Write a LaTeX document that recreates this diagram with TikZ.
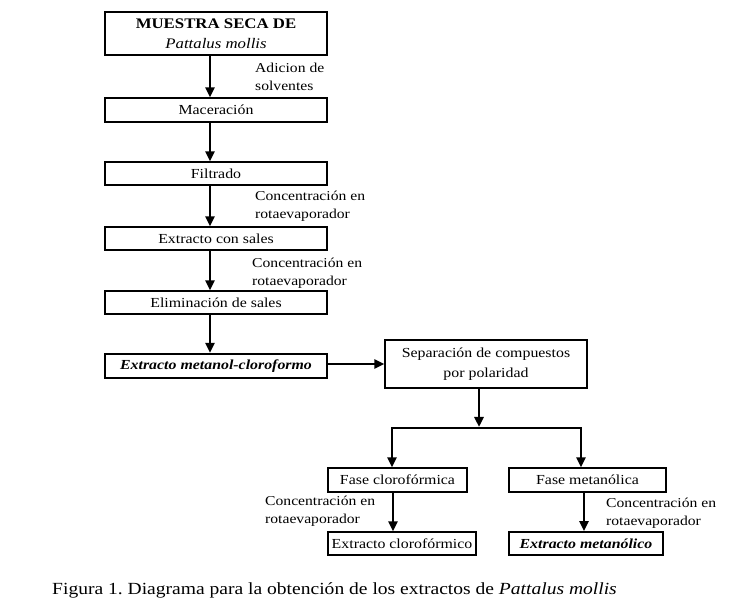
\documentclass[tikz,border=0pt]{standalone}
\usepackage{fontspec}
\setmainfont[FakeStretch=1.15]{Liberation Serif}
\usetikzlibrary{arrows.meta}
\frenchspacing
\begin{document}
\begin{tikzpicture}[x=1pt,y=-1pt,
  box/.style={draw, line width=1.4pt, inner sep=0pt, minimum height=24pt, font=\fontsize{13.8}{15}\selectfont, align=center},
  lbl/.style={anchor=north west, inner sep=0pt, font=\fontsize{13.6}{17.5}\selectfont, align=left},
  arr/.style={line width=2.6pt, -{Triangle[length=10pt,width=9pt]}},
  ln/.style={line width=2.6pt}]
\useasboundingbox (0,0) rectangle (742,609);
\node[box, minimum width=222pt, minimum height=43pt, font=\fontsize{14.6}{20}\selectfont] (muestra) at (216,33.5) {\textbf{MUESTRA SECA DE}\\\textit{Pattalus mollis}};
\node[box, minimum width=222pt] (mac) at (216,110) {Maceración};
\node[box, minimum width=222pt, minimum height=23pt] (filt) at (216,173.5) {Filtrado};
\node[box, minimum width=222pt, minimum height=23pt] (sales) at (216,238.5) {Extracto con sales};
\node[box, minimum width=222pt, minimum height=23pt] (elim) at (216,302.5) {Eliminación de sales};
\node[box, line width=2.2pt, minimum width=222pt] (emc) at (216,366) {\textbf{\textit{Extracto metanol-cloroformo}}};
\node[box, minimum width=202pt, minimum height=48pt, font=\fontsize{13.8}{20}\selectfont] (sep) at (486,364) {Separación de compuestos\\por polaridad};
\node[box, minimum width=139pt] (fcl) at (397.5,480) {Fase clorofórmica};
\node[box, minimum width=157pt] (fme) at (587.5,480) {Fase metanólica};
\node[box, minimum width=148pt, minimum height=23pt] (ecl) at (402,543.5) {Extracto clorofórmico};
\node[box, line width=1.8pt, minimum width=154pt, minimum height=23pt] (eme) at (586,543.5) {\textbf{\textit{Extracto metanólico}}};

\coordinate (ax) at (210,0);
\draw[arr] (muestra.south -| ax) -- (mac.north -| ax);
\draw[arr] (mac.south -| ax) -- (filt.north -| ax);
\draw[arr] (filt.south -| ax) -- (sales.north -| ax);
\draw[arr] (sales.south -| ax) -- (elim.north -| ax);
\draw[arr] (elim.south -| ax) -- (emc.north -| ax);
\draw[arr] (emc.east |- 0,364) -- (sep.west |- 0,364);

\coordinate (bm) at (479,427);
\coordinate (bl) at (392,428);
\coordinate (br) at (581,428);
\draw[arr] (sep.south -| bm) -- (bm);
\draw[ln, line cap=rect] (bl) -- (br);
\draw[arr] (bl) -- (fcl.north -| bl);
\draw[arr] (br) -- (fme.north -| br);
\coordinate (cl) at (393,0);
\coordinate (cr) at (584,0);
\draw[arr] (fcl.south -| cl) -- (ecl.north -| cl);
\draw[arr] (fme.south -| cr) -- (eme.north -| cr);

\node[lbl] (l1) at (255,63) {Adicion de\\solventes};
\node[lbl] (l2) at (255,191) {Concentración en\\rotaevaporador};
\node[lbl] (l3) at (252,258) {Concentración en\\rotaevaporador};
\node[lbl] (l4) at (265,496) {Concentración en\\rotaevaporador};
\node[lbl] (l5) at (606,498) {Concentración en\\rotaevaporador};
\node[anchor=west, inner sep=0pt, font=\fontsize{17}{19}\selectfont] (cap) at (52,590) {Figura 1. Diagrama para la obtención de los extractos de \textit{Pattalus mollis}};
\end{tikzpicture}
\end{document}
